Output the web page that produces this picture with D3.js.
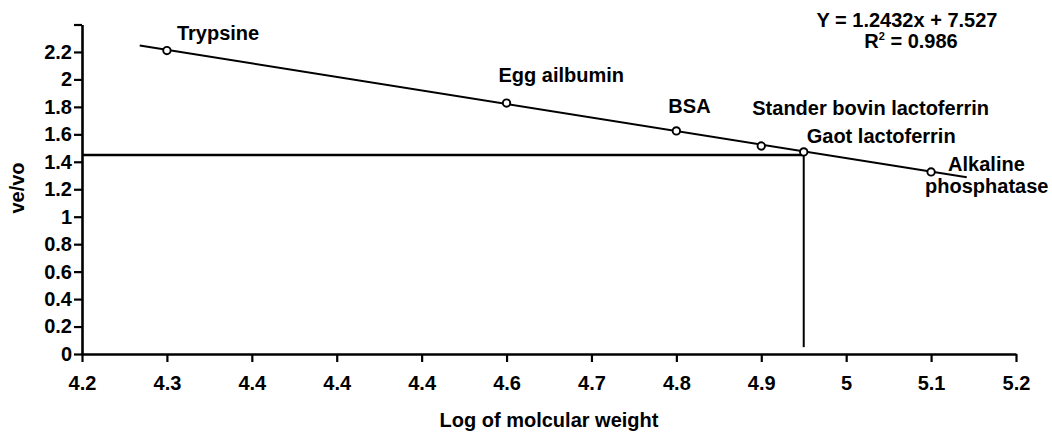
<!DOCTYPE html>
<html lang="en">
<head>
    <meta charset="UTF-8">
    <title>ve/vo vs Log of molcular weight</title>
    <script src="https://d3js.org/d3.v7.min.js"></script>
    <style>
        body {
            margin: 0;
            background-color: #ffffff;
        }

        svg text {
            font-family: "Liberation Sans", Arial, sans-serif;
            font-weight: bold;
            font-size: 20px;
            fill: #000;
        }
    </style>
</head>
<body>
    <svg id="chart"></svg>

    <script>
        // category axis labels, as printed on the original figure
        const xTickLabels = ["4.2", "4.3", "4.4", "4.4", "4.4", "4.6", "4.7", "4.8", "4.9", "5", "5.1", "5.2"];
        const yTicks = [0, 0.2, 0.4, 0.6, 0.8, 1, 1.2, 1.4, 1.6, 1.8, 2, 2.2, 2.4];

        // standards (position along the category axis, ve/vo)
        const proteins = ["Trypsine", "Egg ailbumin", "BSA", "Stander bovin lactoferrin", "Gaot lactoferrin", "Alkaline phosphatase"];
        const proteinPos = [1, 5, 7, 8, 8.5, 10];
        const veVo = [2.21, 1.828, 1.625, 1.515, 1.472, 1.326];

        // fitted line end points
        const fitPos = [0.68, 10.42];
        const fitVeVo = [2.247, 1.287];

        // read-off guide for the sample
        const samplePos = 8.5;
        const sampleVeVo = 1.45;
        const guideBottom = 0.05;

        const equation = "Y = 1.2432x + 7.527";
        const rSquared = "0.986";

        const width = 1052;
        const height = 434;

        const svg = d3.select("#chart")
            .attr("width", width)
            .attr("height", height);

        const x = d3.scaleLinear()
            .domain([0, xTickLabels.length - 1])
            .range([82, 1016]);

        const y = d3.scaleLinear()
            .domain([0, 2.4])
            .range([354, 24.5]);

        // axes
        const xAxis = svg.append("g")
            .attr("transform", `translate(0,${y(0)})`)
            .call(d3.axisBottom(x)
                .tickValues(d3.range(xTickLabels.length))
                .tickFormat(i => xTickLabels[i])
                .tickSize(8)
                .tickSizeOuter(0)
                .tickPadding(13.8));

        const yAxis = svg.append("g")
            .attr("transform", `translate(${x(0)},0)`)
            .call(d3.axisLeft(y)
                .tickValues(yTicks)
                .tickFormat(d => d === 2.4 ? "" : d3.format("~g")(d))
                .tickSize(8)
                .tickSizeOuter(0)
                .tickPadding(2));

        [xAxis, yAxis].forEach(g => {
            g.select(".domain").attr("stroke", "#000").attr("stroke-width", 2.6);
            g.selectAll(".tick line").attr("stroke", "#000").attr("stroke-width", 2.2);
            g.selectAll(".tick text").attr("font-size", null).attr("font-family", null);
        });
        xAxis.attr("font-size", null).attr("font-family", null);
        yAxis.attr("font-size", null).attr("font-family", null);

        // axis titles
        svg.append("text")
            .attr("x", 549)
            .attr("y", 427)
            .attr("text-anchor", "middle")
            .text("Log of molcular weight");

        svg.append("text")
            .attr("transform", "translate(24,188) rotate(-90)")
            .attr("text-anchor", "middle")
            .text("ve/vo");

        // guide lines for the sample
        svg.append("line")
            .attr("x1", x(0))
            .attr("x2", x(samplePos))
            .attr("y1", y(sampleVeVo))
            .attr("y2", y(sampleVeVo))
            .attr("stroke", "#000")
            .attr("stroke-width", 2.6);

        svg.append("line")
            .attr("x1", x(samplePos))
            .attr("x2", x(samplePos))
            .attr("y1", y(sampleVeVo))
            .attr("y2", y(guideBottom))
            .attr("stroke", "#000")
            .attr("stroke-width", 2);

        // fitted line
        const fit = fitPos.map((p, i) => ({ pos: p, v: fitVeVo[i] }));
        svg.append("path")
            .datum(fit)
            .attr("fill", "none")
            .attr("stroke", "#000")
            .attr("stroke-width", 2)
            .attr("d", d3.line().x(d => x(d.pos)).y(d => y(d.v)));

        // points
        const points = proteins.map((name, i) => ({ name, pos: proteinPos[i], v: veVo[i] }));

        svg.selectAll(".dot")
            .data(points)
            .enter().append("circle")
            .attr("class", "dot")
            .attr("cx", d => x(d.pos))
            .attr("cy", d => y(d.v))
            .attr("r", 3.7)
            .attr("fill", "#fff")
            .attr("stroke", "#000")
            .attr("stroke-width", 1.9);

        // label placement next to each point
        const labelOffsets = {
            "Trypsine": [[10, -11]],
            "Egg ailbumin": [[-8, -21]],
            "BSA": [[-8, -18]],
            "Stander bovin lactoferrin": [[-9, -31]],
            "Gaot lactoferrin": [[3, -9]],
            "Alkaline phosphatase": [[17, -1], [-6, 21]]
        };

        points.forEach(d => {
            const offs = labelOffsets[d.name];
            const parts = offs.length > 1 ? d.name.split(" ") : [d.name];
            parts.forEach((t, k) => {
                svg.append("text")
                    .attr("x", x(d.pos) + offs[k][0])
                    .attr("y", y(d.v) + offs[k][1])
                    .text(t);
            });
        });

        // equation
        svg.append("text")
            .attr("x", 907)
            .attr("y", 27)
            .attr("text-anchor", "middle")
            .text(equation);

        const r2 = svg.append("text")
            .attr("x", 911)
            .attr("y", 48)
            .attr("text-anchor", "middle");
        r2.append("tspan").text("R");
        r2.append("tspan").attr("dy", -8).attr("font-size", "11px").text("2");
        r2.append("tspan").attr("dy", 8).text(" = " + rSquared);
    </script>
</body>
</html>
